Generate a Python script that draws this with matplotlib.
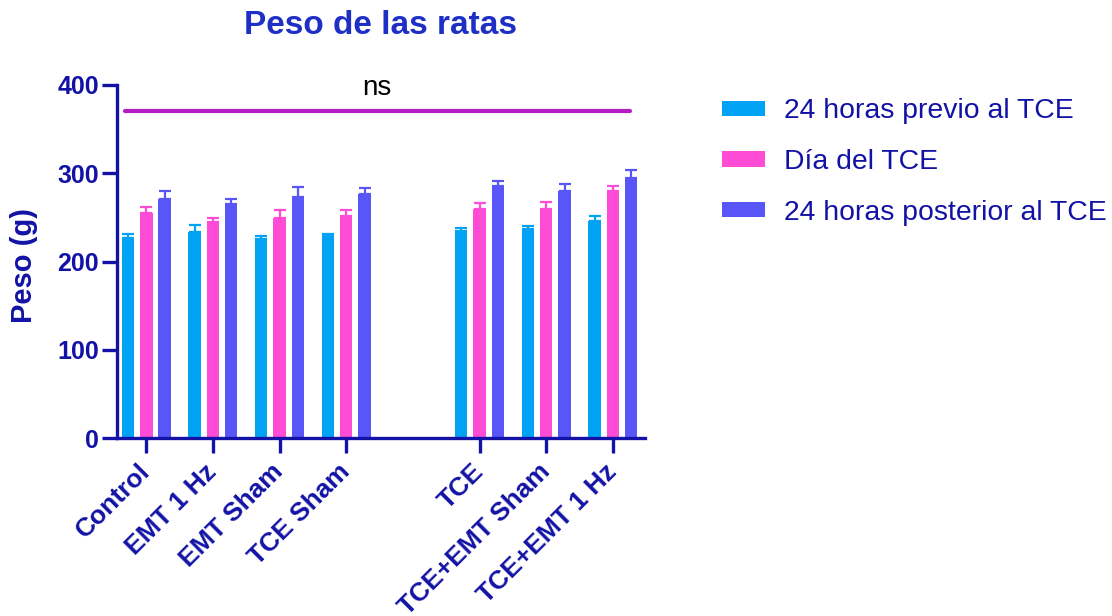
import numpy as np
import matplotlib
matplotlib.use("Agg")
import matplotlib.pyplot as plt

plt.rcParams['font.family'] = ['Liberation Sans', 'DejaVu Sans']

groups = ["Control", "EMT 1 Hz", "EMT Sham", "TCE Sham",
          "TCE", "TCE+EMT Sham", "TCE+EMT 1 Hz"]
group_pos = [0, 1, 2, 3, 5, 6, 7]

series_names = ["24 horas previo al TCE", "Día del TCE", "24 horas posterior al TCE"]
pre_mean = [227, 233, 225, 229, 235, 237, 246]
pre_err = [4, 8, 3.5, 2.5, 3.5, 3, 5]
day_mean = [255, 245, 249, 252, 260, 260, 280]
day_err = [7, 4, 9, 6.5, 6.5, 7.5, 5.5]
post_mean = [271, 265, 273, 276, 285, 280, 295]
post_err = [9, 6, 11, 7, 6, 8, 8.5]

means = [pre_mean, day_mean, post_mean]
errs = [pre_err, day_err, post_err]
colors = ["#00a3f4", "#ff4cd6", "#5856f6"]

axis_col = "#1212a6"
title_col = "#1e2fc6"

fig = plt.figure(figsize=(11.12, 6.16), dpi=100)
ax = fig.add_axes([117 / 1112, 1 - 438 / 616, (645 - 117) / 1112, (438 - 85) / 616])

x = np.array(group_pos, dtype=float)
width = 0.185
offsets = [-0.275, 0.0, 0.275]
handles = []
for m, e, c, off, name in zip(means, errs, colors, offsets, series_names):
    b = ax.bar(x + off, m, width=width, color=c, label=name, zorder=2)
    handles.append(b)
    ax.errorbar(x + off, m, yerr=[np.zeros(len(e)), e], fmt='none',
                ecolor=c, elinewidth=1.6, capsize=4, capthick=1.6, zorder=3)

ax.set_xlim(-0.44, 7.48)
ax.set_ylim(0, 400)
ax.set_yticks([0, 100, 200, 300, 400])
ax.set_xticks(x)
ax.set_xticklabels(groups, rotation=45, ha='right', va='center', rotation_mode='anchor',
                   fontsize=19, fontweight='bold', color=axis_col)
for lbl in ax.get_yticklabels():
    lbl.set_fontsize(18)
    lbl.set_fontweight('bold')
    lbl.set_color(axis_col)

for side in ['top', 'right']:
    ax.spines[side].set_visible(False)
for side in ['left', 'bottom']:
    ax.spines[side].set_color(axis_col)
    ax.spines[side].set_linewidth(2.4)
ax.tick_params(axis='both', colors=axis_col, width=2.4, length=10.5)
ax.tick_params(axis='y', pad=2.5)
ax.tick_params(axis='x', pad=11)

ax.set_ylabel("Peso (g)", fontsize=21, fontweight='bold', color=axis_col)
ax.yaxis.set_label_coords(-0.15, 0.49)
fig.text(380 / 1112, 1 - 26 / 616, "Peso de las ratas", ha='center', va='center',
         fontsize=24, fontweight='bold', color=title_col)

# significance bar across all groups
ax.plot([-0.32, 7.25], [371, 371], color="#b41cc4", lw=3, solid_capstyle='round',
        zorder=4, clip_on=False)
ax.text(3.45, 382, "ns", ha='center', va='bottom', fontsize=20, color='black')

fig.legend(handles=handles, labels=series_names, loc='center left',
           bbox_to_anchor=(722 / 1112, 1 - 162 / 616), frameon=False,
           fontsize=20.4, labelcolor=axis_col, handlelength=1.52, handleheight=0.46,
           handletextpad=0.67, labelspacing=0.87, borderpad=0, borderaxespad=0)

fig.savefig("out.png", dpi=100)
